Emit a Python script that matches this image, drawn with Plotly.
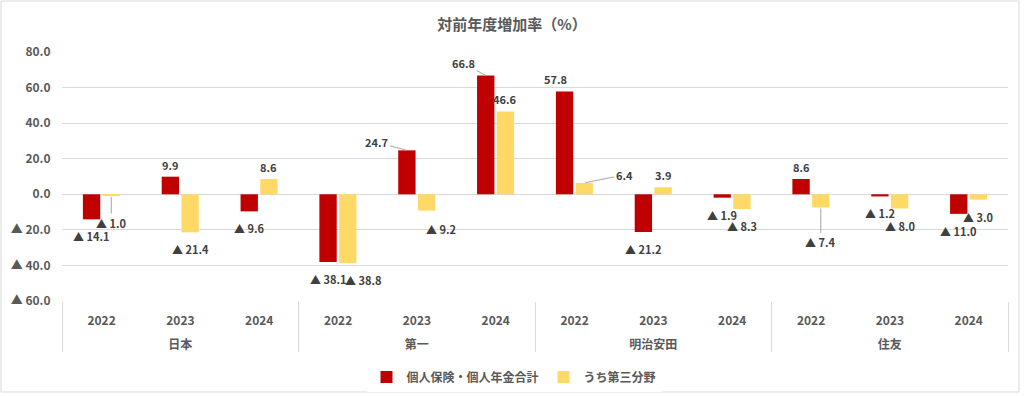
import plotly.graph_objects as go

companies = ["日本", "第一", "明治安田", "住友"]
years = ["2022", "2023", "2024"]
series_names = ["個人保険・個人年金合計", "うち第三分野"]
total_vals = [-14.1, 9.9, -9.6, -38.1, 24.7, 66.8, 57.8, -21.2, -1.9, 8.6, -1.2, -11.0]
third_vals = [-1.0, -21.4, 8.6, -38.8, -9.2, 46.6, 6.4, 3.9, -8.3, -7.4, -8.0, -3.0]
y_tickvals = [-60, -40, -20, 0, 20, 40, 60, 80]

# label offsets (pixels) and leader-line flags for manually placed labels
special_total = {4: (-30, -8, True), 5: (-22, -12, True), 6: (-9, -12, False)}
special_third = {0: (0, 27, True), 3: (16, 17, False), 4: (14, 18, False),
                 6: (40, -8, True), 9: (0, 35, True)}

colors = ["#C00000", "#FFD966"]
FONT = "Noto Sans CJK JP"

outer = [c for c in companies for _ in years]
inner = [y for _ in companies for y in years]

fig = go.Figure()
for name, vals, col in zip(series_names, [total_vals, third_vals], colors):
    fig.add_trace(go.Bar(x=[outer, inner], y=vals, name=name, marker_color=col,
                         marker_line_width=0))

def fmt(v):
    return f"{v:.1f}" if v >= 0 else f"▲ {abs(v):.1f}"

annotations = []
for vals, off, special in [(total_vals, -0.125, special_total), (third_vals, 0.125, special_third)]:
    for i, v in enumerate(vals):
        if i in special:
            dx, dy, lead = special[i]
        else:
            dx, dy, lead = 0, (-12 if v >= 0 else 17), False
        annotations.append(dict(
            x=i + off, y=v, xref="x", yref="y", text=fmt(v),
            showarrow=True, ax=dx, ay=dy, arrowhead=0, arrowwidth=1,
            arrowcolor="#A6A6A6" if lead else "rgba(0,0,0,0)", standoff=1,
            font=dict(size=11, color="#404040", family=FONT, weight="bold"),
        ))

fig.update_layout(
    width=1024, height=396, autosize=False,
    margin=dict(l=62, r=16, t=52, b=95, autoexpand=False),
    paper_bgcolor="white", plot_bgcolor="white",
    font=dict(family=FONT, color="#595959"),
    title=dict(text="対前年度増加率（%）", x=(512 - 62) / 946, xref="paper",
               y=1 - 25 / 396, yref="container", yanchor="middle", xanchor="center",
               font=dict(size=15, color="#595959", weight="bold")),
    barmode="group", bargap=0.5, bargroupgap=0.12,
    showlegend=True,
    legend=dict(orientation="h", x=(514 - 62) / 946, xref="paper", xanchor="center",
                y=(301 - 377) / 249, yref="paper", yanchor="middle",
                font=dict(size=12, color="#595959", weight="bold"),
                traceorder="normal"),
    annotations=annotations,
    shapes=[dict(type="rect", xref="paper", yref="paper",
                 x0=(1 - 62) / 946, x1=(1019 - 62) / 946,
                 y0=(301 - 392) / 249, y1=(301 - 1) / 249,
                 line=dict(color="#D9D9D9", width=1), fillcolor="rgba(0,0,0,0)", layer="below")],
)
fig.update_yaxes(range=[-60, 80], tickvals=y_tickvals,
                 ticktext=[fmt(v) for v in y_tickvals],
                 gridcolor="#D9D9D9", gridwidth=1, zeroline=False, showline=False,
                 ticks="outside", ticklen=8, tickcolor="rgba(0,0,0,0)",
                 tickfont=dict(size=12, color="#595959", weight="bold"), automargin=False)
fig.update_xaxes(type="multicategory", showdividers=True, dividercolor="#D9D9D9",
                 dividerwidth=1, showline=False, ticks="outside", ticklen=22,
                 ticklabelstandoff=11, ticklabelshift=-14,
                 tickcolor="rgba(0,0,0,0)",
                 tickfont=dict(size=12, color="#595959", weight="bold"),
                 automargin=False, tickangle=0.01)

fig.write_html("out.html", config={"displayModeBar": False},
               post_script="document.body.style.margin='0';")
